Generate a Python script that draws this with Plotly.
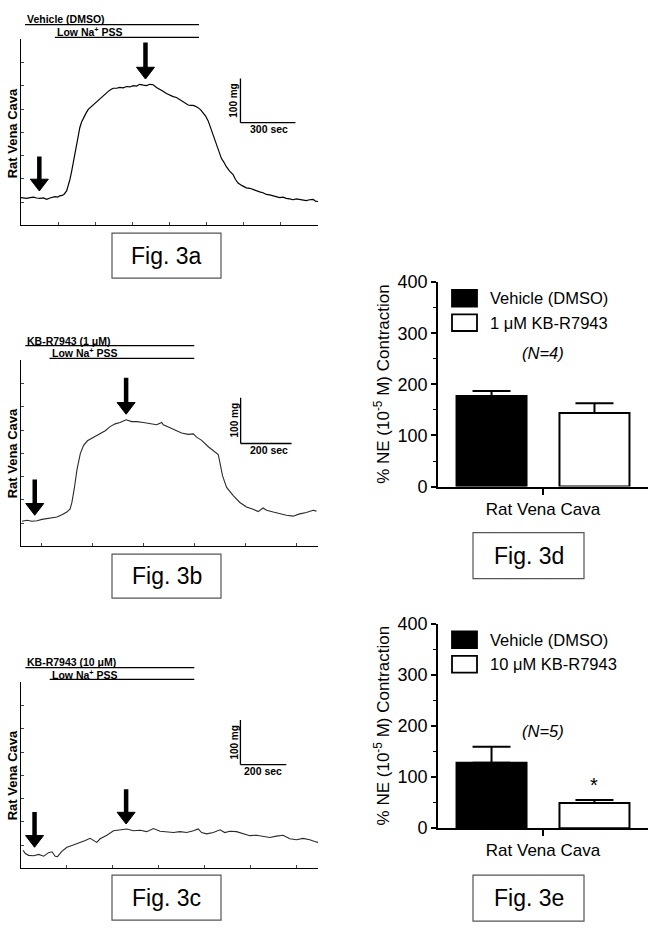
import plotly.graph_objects as go

W, H = 652, 938
def px(x): return x / W
def py(y): return 1 - y / H

# ---------------- data ----------------
# Fig. 3a  (time in s, tension in mg)
t_a = [0, 15, 31, 50, 67, 85, 104, 122, 140, 158, 172, 185, 200, 212, 224, 234, 249, 258, 267, 276, 285, 294, 303, 312,
       321, 330, 340, 354, 367, 380, 394, 408, 421, 435, 449, 462, 476, 490, 503, 521, 539, 557, 576, 594, 612, 630, 648,
       667, 685, 703, 721, 739, 757, 775, 793, 812, 830, 848, 866, 884, 898, 912, 925, 939, 952, 966, 980, 993, 1007,
       1021, 1030, 1039, 1048, 1057, 1066, 1075, 1084, 1093, 1107, 1120, 1138, 1157, 1170, 1184, 1206, 1229, 1248, 1266,
       1284, 1302, 1320, 1338, 1356, 1375, 1393, 1411, 1429, 1447, 1465, 1484, 1502, 1520, 1538, 1556, 1574, 1593, 1606, 1620]
mg_a = [63, 62, 61, 63, 64, 62, 61, 62, 59, 62, 63, 65, 64, 67, 68, 70, 78, 90, 104, 122, 141, 163, 185, 205,
        222, 234, 244, 254, 263, 268, 274, 280, 285, 290, 295, 299, 304, 308, 311, 311, 313, 312, 315, 314, 317, 316, 320,
        318, 317, 320, 319, 313, 309, 304, 299, 295, 292, 290, 285, 281, 276, 273, 272, 272, 270, 267, 262, 256, 248,
        237, 226, 215, 204, 193, 181, 170, 160, 152, 143, 133, 123, 115, 104, 96, 90, 85, 84, 81, 79, 76, 74, 70, 69, 67,
        66, 63, 64, 61, 60, 58, 60, 59, 57, 56, 58, 59, 55, 54]

# Fig. 3b
t_b = [4, 24, 43, 63, 82, 102, 122, 141, 161, 180, 193, 200, 209, 220, 233, 246, 261, 285, 311, 331, 350, 370, 389, 413,
       435, 455, 481, 507, 533, 553, 559, 579, 605, 631, 657, 677, 690, 710, 736, 755, 775, 782, 792, 808, 834, 860,
       886, 912, 932, 951, 965, 991, 1017, 1043, 1069, 1095, 1121, 1148, 1161]
mg_b = [55, 57, 55, 56, 59, 61, 62, 64, 69, 75, 82, 96, 125, 168, 203, 221, 231, 238, 246, 253, 262, 268, 271, 277,
        273, 273, 271, 269, 266, 271, 266, 261, 255, 248, 245, 246, 239, 232, 218, 209, 201, 182, 154, 129, 111, 96,
        86, 81, 76, 84, 79, 75, 71, 68, 66, 71, 74, 79, 77]

# Fig. 3c
t_c = [9, 19, 33, 55, 77, 99, 120, 135, 149, 159, 178, 200, 222, 251, 280, 301, 316, 330, 345, 374, 403, 432, 461,
       490, 519, 548, 577, 606, 635, 664, 693, 722, 751, 772, 787, 809, 838, 867, 888, 910, 939, 968, 997, 1026,
       1055, 1084, 1113, 1142, 1171, 1200, 1229, 1258, 1279, 1294]
mg_c = [40, 33, 29, 28, 31, 27, 35, 37, 27, 26, 38, 47, 51, 56, 62, 67, 62, 58, 66, 74, 84, 86, 88,
        84, 85, 82, 89, 83, 82, 80, 82, 80, 84, 88, 80, 77, 80, 86, 80, 83, 82, 77, 73, 74,
        72, 69, 72, 74, 66, 64, 67, 64, 60, 58]

# event arrows: (time, tail mg, tip mg)
arrows_a = [(100, 156, 78), (679, 415, 332)]
arrows_b = [(54, 146, 68), (413, 369, 289)]
arrows_c = [(59, 126, 47), (458, 177, 99)]

# scale bars: (corner time, corner mg, 100 mg, seconds)
scale_a = (1197, 233, 100, 300)
scale_b = (863, 225, 100, 200)
scale_c = (956, 232, 100, 200)

# treatment bars: (label, start s, end s)
treat_a = [("Vehicle (DMSO)", 22, 971), ("Low Na<sup>+</sup> PSS", 185, 971)]
treat_b = [("KB-R7943 (1 μM)", 17, 681), ("Low Na<sup>+</sup> PSS", 112, 681)]
treat_c = [("KB-R7943 (10 μM)", 19, 755), ("Low Na<sup>+</sup> PSS", 125, 755)]

# bar charts
group_label = "Rat Vena Cava"
d_names = ["Vehicle (DMSO)", "1 μM KB-R7943"]
d_means = [177, 144]
d_sem = [10, 19]
e_names = ["Vehicle (DMSO)", "10 μM KB-R7943"]
e_means = [128, 49]
e_sem = [31, 6]
y_ticks = [0, 100, 200, 300, 400]

# ---------------- figure ----------------
FONT = "Liberation Sans, Arial, Helvetica, sans-serif"
fig = go.Figure()

fig.add_trace(go.Scatter(x=t_a, y=mg_a, mode="lines", line=dict(color="black", width=1.2), xaxis="x", yaxis="y"))
fig.add_trace(go.Scatter(x=t_b, y=mg_b, mode="lines", line=dict(color="#2a2a2a", width=1.1), xaxis="x2", yaxis="y2"))
fig.add_trace(go.Scatter(x=t_c, y=mg_c, mode="lines", line=dict(color="#2a2a2a", width=1.1), xaxis="x3", yaxis="y3"))

for xa, ya, names, means, sem in [("x4", "y4", d_names, d_means, d_sem), ("x5", "y5", e_names, e_means, e_sem)]:
    fig.add_trace(go.Bar(
        x=[0, 1], y=means, width=0.68,
        marker=dict(color=["black", "white"], line=dict(color="black", width=2)),
        error_y=dict(type="data", array=sem, arrayminus=[0, 0], symmetric=False,
                     color="black", thickness=2, width=19),
        xaxis=xa, yaxis=ya, hoverinfo="skip"))

trace_common = dict(showline=True, linecolor="black", linewidth=1, ticks="inside", ticklen=3,
                    tickcolor="#444", tickwidth=1, showticklabels=False, showgrid=False, zeroline=False)

# pixel boxes of the trace panels: (left, right, top, bottom)
box_a = (21, 318, 30, 220)
box_b = (21, 318, 358, 548)
box_c = (21, 318, 687, 877)
rng_a = ([0, 1620], [0, 422])
rng_b = ([0, 1167], [0, 407])
rng_c = ([0, 1294], [0, 416])

xd = [px(21), px(318)]
layout = dict(
    width=W, height=H, margin=dict(l=0, r=0, t=0, b=0),
    paper_bgcolor="white", plot_bgcolor="white", showlegend=False,
    font=dict(family=FONT, color="black"),
    xaxis=dict(domain=xd, range=rng_a[0], dtick=202.5, tick0=0, anchor="y", **trace_common),
    yaxis=dict(domain=[py(220), py(30)], range=rng_a[1], dtick=52.75, tick0=0, anchor="x", **trace_common),
    xaxis2=dict(domain=xd, range=rng_b[0], dtick=200, tick0=82, anchor="y2", **trace_common),
    yaxis2=dict(domain=[py(548), py(358)], range=rng_b[1], dtick=50.9, tick0=0, anchor="x2", **trace_common),
    xaxis3=dict(domain=xd, range=rng_c[0], dtick=200, tick0=0, anchor="y3", **trace_common),
    yaxis3=dict(domain=[py(877), py(687)], range=rng_c[1], dtick=52, tick0=0, anchor="x3", **trace_common),
)
bar_x = dict(range=[-0.52, 1.52], showline=True, linecolor="black", linewidth=1.8, ticks="outside",
             ticklen=6, tickwidth=1.8, tickcolor="black", tickvals=[0.5], ticktext=[group_label],
             tickfont=dict(size=17, family=FONT), showgrid=False, zeroline=False)
bar_y = dict(range=[0, 400], showline=True, linecolor="black", linewidth=1.8, ticks="outside",
             ticklen=5, tickwidth=1.8, tickcolor="black", tickvals=y_ticks,
             tickfont=dict(size=18, family=FONT), showgrid=False, zeroline=False,
             minor=dict(dtick=50, tick0=0, ticks="outside", ticklen=3, tickwidth=1.2, tickcolor="black"))
layout["xaxis4"] = dict(domain=[px(438), px(648)], anchor="y4", **bar_x)
layout["yaxis4"] = dict(domain=[py(487), py(278)], anchor="x4", **bar_y)
layout["xaxis5"] = dict(domain=[px(438), px(648)], anchor="y5", **bar_x)
layout["yaxis5"] = dict(domain=[py(836), py(627)], anchor="x5", **bar_y)
fig.update_layout(**layout)

shapes = []
annots = []

def trace_panel(sfx, box, rng, arrows, scale, treat, treat_y, label_y, mg_lab, sec_lab):
    xr, yr = "x" + sfx, "y" + sfx
    # data units per pixel
    ux = (rng[0][1] - rng[0][0]) / (box[1] - box[0])
    uy = (rng[1][1] - rng[1][0]) / (box[3] - box[2])
    for t, tail, tip in arrows:
        head_len = 12 * uy
        half_w = 9 * ux
        shapes.append(dict(type="line", xref=xr, yref=yr, x0=t, x1=t, y0=tail, y1=tip + head_len * 0.8,
                           line=dict(color="black", width=4.5)))
        shapes.append(dict(type="path", xref=xr, yref=yr,
                           path="M %f,%f L %f,%f L %f,%f Z" % (t - half_w, tip + head_len, t + half_w,
                                                               tip + head_len, t, tip),
                           fillcolor="black", line=dict(color="black", width=1)))
    t0, m0, dm, ds = scale
    shapes.append(dict(type="line", xref=xr, yref=yr, x0=t0, x1=t0, y0=m0, y1=m0 + dm,
                       line=dict(color="black", width=1.3)))
    shapes.append(dict(type="line", xref=xr, yref=yr, x0=t0, x1=t0 + ds, y0=m0, y1=m0,
                       line=dict(color="black", width=1.3)))
    annots.append(dict(x=mg_lab[0], y=mg_lab[1], xref=xr, yref=yr, text="<b>%d mg</b>" % dm,
                       xanchor="center", yanchor="middle",
                       textangle=-90, showarrow=False, font=dict(size=10, family=FONT)))
    annots.append(dict(x=sec_lab[0], y=sec_lab[1], xref=xr, yref=yr, text="<b>%d sec</b>" % ds,
                       xanchor="center", yanchor="middle",
                       showarrow=False, font=dict(size=10.5, family=FONT)))
    for (lab, s0, s1), (ty, ly) in zip(treat, treat_y):
        annots.append(dict(x=s0, y=py(ty), xref=xr, yref="paper", text="<b>%s</b>" % lab,
                           xanchor="left", yanchor="middle", showarrow=False,
                           font=dict(size=10.5, family=FONT)))
        shapes.append(dict(type="line", xref=xr, yref="paper", x0=s0, x1=s1, y0=py(ly), y1=py(ly),
                           line=dict(color="black", width=1.3)))
    annots.append(dict(x=px(12), y=py(label_y), xref="paper", yref="paper", text="<b>Rat Vena Cava</b>",
                       xanchor="center", yanchor="middle",
                       textangle=-90, showarrow=False, font=dict(size=13, family=FONT)))

trace_panel("", box_a, rng_a, arrows_a, scale_a, treat_a, [(9.5, 15), (22, 28)], 126, (1157, 283), (1353, 218))
trace_panel("2", box_b, rng_b, arrows_b, scale_b, treat_b, [(338, 343), (350, 356)], 453, (840, 275), (975, 211))
trace_panel("3", box_c, rng_c, arrows_c, scale_c, treat_c, [(666, 672), (679, 684)], 782, (932, 281), (1055, 218))

def bar_panel(sfx, names, n_text, n_y, top_px, star=None):
    xr, yr = "x" + sfx, "y" + sfx
    # legend
    for i, (nm, col) in enumerate(zip(names, ["black", "white"])):
        y0 = top_px + 8 + i * 25
        shapes.append(dict(type="rect", xref="paper", yref="paper", x0=px(452), x1=px(477),
                           y0=py(y0), y1=py(y0 + 17), fillcolor=col, line=dict(color="black", width=1.8)))
        annots.append(dict(x=px(488), y=py(y0 + 8.5), xref="paper", yref="paper", text=nm,
                           xanchor="left", yanchor="middle", showarrow=False,
                           font=dict(size=16.5, family=FONT)))
    annots.append(dict(x=0.5, y=n_y, xref=xr, yref=yr, text="<i>%s</i>" % n_text, showarrow=False,
                       xanchor="center", yanchor="middle",
                       font=dict(size=16.5, family=FONT)))
    if star is not None:
        annots.append(dict(x=1, y=star, xref=xr, yref=yr, text="*", showarrow=False,
                           xanchor="center", yanchor="middle",
                           font=dict(size=20, family=FONT)))
    annots.append(dict(x=px(382), y=py(top_px + 104), xref="paper", yref="paper",
                       text="% NE (10<sup>-5</sup> M) Contraction", textangle=-90, showarrow=False,
                       xanchor="center", yanchor="middle",
                       font=dict(size=17, family=FONT)))

bar_panel("4", d_names, "(N=4)", 262, 278)
bar_panel("5", e_names, "(N=5)", 190, 627, star=84)

# figure labels
for lab, (x0, x1, y0, y1) in [("Fig. 3a", (112, 221, 228, 274)), ("Fig. 3b", (112, 221, 556, 601)),
                              ("Fig. 3c", (112, 221, 884, 930)), ("Fig. 3d", (473, 584, 534, 581)),
                              ("Fig. 3e", (473, 584, 884, 931))]:
    shapes.append(dict(type="rect", xref="paper", yref="paper", x0=px(x0), x1=px(x1), y0=py(y1), y1=py(y0),
                       line=dict(color="#555", width=1.2), fillcolor="rgba(0,0,0,0)"))
    annots.append(dict(x=px((x0 + x1) / 2), y=py((y0 + y1) / 2), xref="paper", yref="paper", text=lab,
                       xanchor="center", yanchor="middle",
                       showarrow=False, font=dict(size=23, family=FONT)))

fig.update_layout(shapes=shapes, annotations=annots)
fig.write_html("out.html", config={"displayModeBar": False},
               post_script="document.body.style.margin='0';document.body.style.padding='0';")
